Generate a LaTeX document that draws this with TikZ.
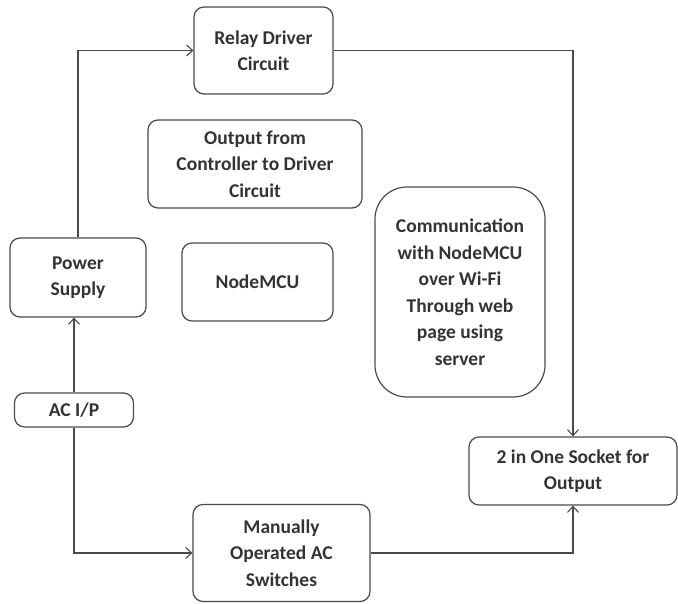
\documentclass[tikz,border=0pt]{standalone}
\usepackage{fontspec}
\setmainfont{Carlito}
\usetikzlibrary{positioning,arrows.meta}
\definecolor{linegray}{HTML}{4A4A4A}

\begin{document}
\begin{tikzpicture}[
  x=1pt, y=1pt,
  box/.style={draw=linegray, line width=1.2pt, rounded corners=10pt, align=center,
    font=\fontsize{19.5}{26.5}\selectfont\bfseries, text=black!80, inner sep=2pt},
  arr/.style={-{Straight Barb[length=6pt,width=11pt]}, line width=1.1pt, draw=linegray}
]
\useasboundingbox (0,0) rectangle (678,603);
\node[box, minimum width=139, minimum height=87] (relay) at (263.5,552.5) {Relay Driver\\Circuit};
\node[box, minimum width=214, minimum height=88] (output) at (255,439) {Output from\\Controller to Driver\\Circuit};
\node[box, minimum width=136, minimum height=79] (power) at (78,325.5) {Power\\Supply};
\node[box, minimum width=151, minimum height=78] (nodemcu) at (257.5,321) {NodeMCU};
\node[box, rounded corners=32pt, minimum width=170, minimum height=210] (comm) at (460,311) {Communication\\with NodeMCU\\over Wi-Fi\\Through web\\page using\\server};
\node[box, minimum width=119, minimum height=34] (acin) at (74,193) {AC I/P};
\node[box, minimum width=177, minimum height=97] (manual) at (281.5,50) {Manually\\Operated AC\\Switches};
\node[box, minimum width=208, minimum height=68] (socket) at (573,132) {2 in One Socket for\\Output};
\draw[arr] (power.north) |- (relay.west);
\draw[arr] (relay.east) -| (socket.north);
\draw[arr] (acin.north) -- (acin.north |- power.south);
\draw[arr] (acin.south) |- (manual.west);
\draw[arr] (manual.east) -| (socket.south);
\end{tikzpicture}
\end{document}
